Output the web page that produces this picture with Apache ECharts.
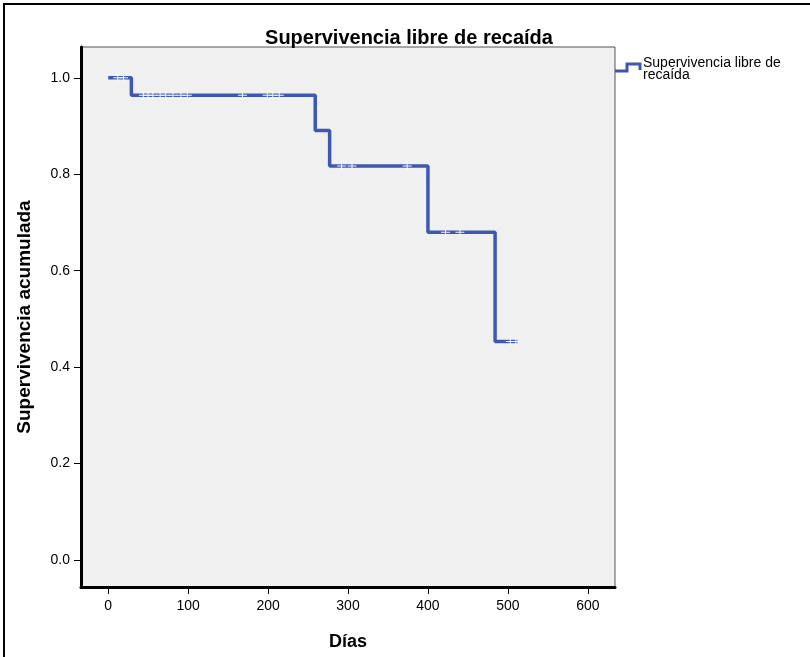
<!DOCTYPE html>
<html>
<head>
<meta charset="utf-8">
<script src="https://cdn.jsdelivr.net/npm/echarts@6/dist/echarts.min.js"></script>
<style>
html, body { margin: 0; padding: 0; background: #fff; }
#chart { width: 810px; height: 657px; }
</style>
</head>
<body>
<div id="chart"></div>
<script>
// curva de Kaplan-Meier (dias, supervivencia)
var stepDays = [0, 29, 259, 277, 400, 484, 512];
var stepSurv = [1.0, 0.964, 0.891, 0.817, 0.680, 0.453, 0.453];

// casos censurados
var censorDays = [12, 19, 44, 50, 56, 65, 72, 81, 91, 99, 168, 199, 206, 214, 292, 305, 374, 422, 440, 503, 510];
var censorSurv = [1.0, 1.0, 0.964, 0.964, 0.964, 0.964, 0.964, 0.964, 0.964, 0.964, 0.964, 0.964, 0.964, 0.964,
    0.817, 0.817, 0.817, 0.680, 0.680, 0.453, 0.453];

var xTicks = [0, 100, 200, 300, 400, 500, 600];
var yTicks = [0, 0.2, 0.4, 0.6, 0.8, 1.0];

var lineColor = '#3d58b0';
var tickFont = '"Liberation Sans", Arial, sans-serif';

var option = {
    animation: false,
    backgroundColor: '#fff',
    title: {
        text: 'Supervivencia libre de recaída',
        left: 404,
        top: 23,
        textAlign: 'center',
        textStyle: { fontFamily: '"Liberation Sans", Arial', fontSize: 20, fontWeight: 'bold', color: '#000' }
    },
    grid: {
        left: 81, top: 47, right: 195, bottom: 70,
        show: true,
        backgroundColor: '#f0f0f0',
        borderColor: '#555',
        borderWidth: 1
    },
    xAxis: {
        type: 'value',
        min: -34,
        max: 634,
        name: 'Días',
        nameLocation: 'middle',
        nameGap: 46,
        nameTextStyle: { fontFamily: '"Liberation Sans", Arial', fontSize: 18, fontWeight: 'bold', color: '#000' },
        axisLine: { show: true, onZero: false, lineStyle: { color: '#000', width: 3 } },
        axisTick: { show: true, customValues: xTicks, length: 7, lineStyle: { color: '#000', width: 1 } },
        axisLabel: {
            customValues: xTicks, margin: 12,
            fontFamily: tickFont, fontSize: 14, color: '#000'
        },
        splitLine: { show: false }
    },
    yAxis: {
        type: 'value',
        min: -0.056,
        max: 1.064,
        name: 'Supervivencia acumulada',
        nameLocation: 'middle',
        nameGap: 47,
        nameTextStyle: { fontFamily: '"Liberation Sans", Arial', fontSize: 19, fontWeight: 'bold', color: '#000' },
        axisLine: { show: true, onZero: false, lineStyle: { color: '#000', width: 3 } },
        axisTick: { show: true, customValues: yTicks, length: 7, lineStyle: { color: '#000', width: 1 } },
        axisLabel: {
            customValues: yTicks, margin: 11,
            fontFamily: tickFont, fontSize: 14, color: '#000',
            formatter: function (v) { return v.toFixed(1); }
        },
        splitLine: { show: false }
    },
    series: [
        {
            name: 'Supervivencia libre de recaída',
            type: 'line',
            step: 'end',
            showSymbol: false,
            lineStyle: { color: lineColor, width: 3.5 },
            data: stepDays.map(function (d, i) { return [d, stepSurv[i]]; }),
            z: 2
        },
        {
            name: 'Censurado',
            type: 'scatter',
            symbol: 'path://M0,3.5H9V4.5H0Z M4,0H5V8H4Z',
            symbolSize: [9, 8],
            itemStyle: { color: '#fff', opacity: 0.95 },
            data: censorDays.map(function (d, i) { return [d, censorSurv[i]]; }),
            z: 3
        }
    ],
    graphic: [
        {
            type: 'rect',
            shape: { x: 4, y: 4, width: 812, height: 660 },
            style: { fill: 'none', stroke: '#000', lineWidth: 2 },
            silent: true
        },
        {
            type: 'polyline',
            shape: { points: [[615, 71], [627, 71], [627, 64], [640, 64], [640, 70]] },
            style: { fill: 'none', stroke: lineColor, lineWidth: 3 }
        },
        {
            type: 'text',
            left: 643,
            top: 56,
            style: {
                text: 'Supervivencia libre de\nrecaída',
                fontFamily: '"Liberation Sans", Arial',
                fontSize: 14,
                lineHeight: 12,
                fill: '#000'
            }
        }
    ]
};

var myChart = echarts.init(document.getElementById('chart'));
myChart.setOption(option);
</script>
</body>
</html>
